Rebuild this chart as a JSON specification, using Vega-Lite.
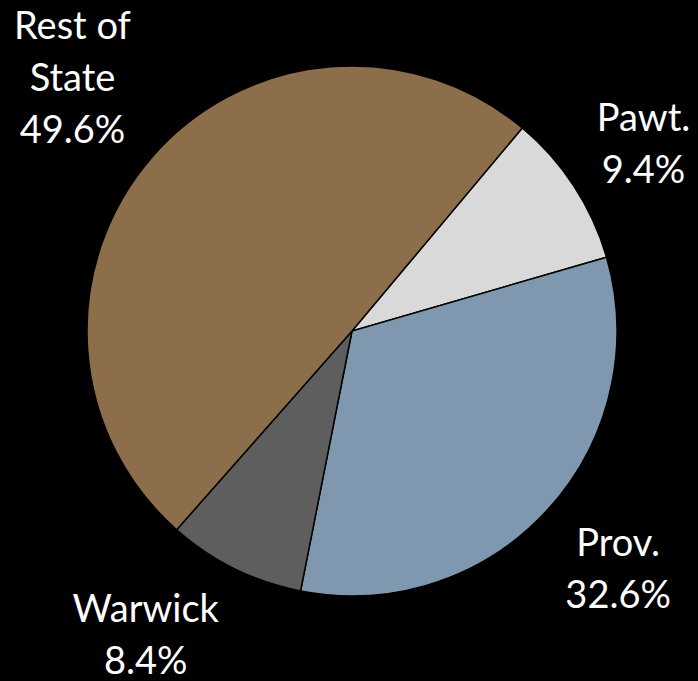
{
  "$schema": "https://vega.github.io/schema/vega-lite/v6.json",
  "width": 692,
  "height": 662,
  "autosize": {"type": "none"},
  "padding": {"left": 6, "top": 0, "right": 0, "bottom": 19},
  "background": "#000000",
  "config": {"view": {"stroke": null}},
  "data": {
    "values": [
      {"idx": 1, "region": "Pawt.", "share": 9.4, "label": ["Pawt.", "9.4%"]},
      {"idx": 2, "region": "Prov.", "share": 32.6, "label": ["Prov.", "32.6%"]},
      {"idx": 3, "region": "Warwick", "share": 8.4, "label": ["Warwick", "8.4%"]},
      {"idx": 4, "region": "Rest of State", "share": 49.6, "label": ["Rest of", "State", "49.6%"]}
    ]
  },
  "encoding": {
    "theta": {"field": "share", "type": "quantitative", "stack": true, "scale": {"range": [0.698, 6.981]}},
    "order": {"field": "idx", "type": "quantitative"}
  },
  "layer": [
    {
      "mark": {"type": "arc", "outerRadius": 265, "stroke": "#000000", "strokeWidth": 1.5},
      "encoding": {
        "color": {
          "field": "region", "type": "nominal", "legend": null,
          "scale": {"domain": ["Pawt.", "Prov.", "Warwick", "Rest of State"], "range": ["#D9D9D9", "#7F98B0", "#5E5E5E", "#8C6E4A"]}
        }
      }
    },
    {
      "mark": {"type": "text", "radius": 348, "dy": -21, "fill": "#FFFFFF", "font": "Lato", "fontSize": 38, "lineHeight": 52, "align": "center", "baseline": "middle"},
      "encoding": {"text": {"condition": {"test": "datum.region === 'Pawt.'", "field": "label"}, "value": ""}}
    },
    {
      "mark": {"type": "text", "radius": 361, "dy": -30, "fill": "#FFFFFF", "font": "Lato", "fontSize": 38, "lineHeight": 52, "align": "center", "baseline": "middle"},
      "encoding": {"text": {"condition": {"test": "datum.region === 'Prov.'", "field": "label"}, "value": ""}}
    },
    {
      "mark": {"type": "text", "radius": 339, "dx": -56, "dy": -24, "fill": "#FFFFFF", "font": "Lato", "fontSize": 38, "lineHeight": 52, "align": "center", "baseline": "middle"},
      "encoding": {"text": {"condition": {"test": "datum.region === 'Warwick'", "field": "label"}, "value": ""}}
    },
    {
      "mark": {"type": "text", "radius": 378, "dx": 7, "dy": -56, "fill": "#FFFFFF", "font": "Lato", "fontSize": 38, "lineHeight": 52, "align": "center", "baseline": "middle"},
      "encoding": {"text": {"condition": {"test": "datum.region === 'Rest of State'", "field": "label"}, "value": ""}}
    }
  ]
}
